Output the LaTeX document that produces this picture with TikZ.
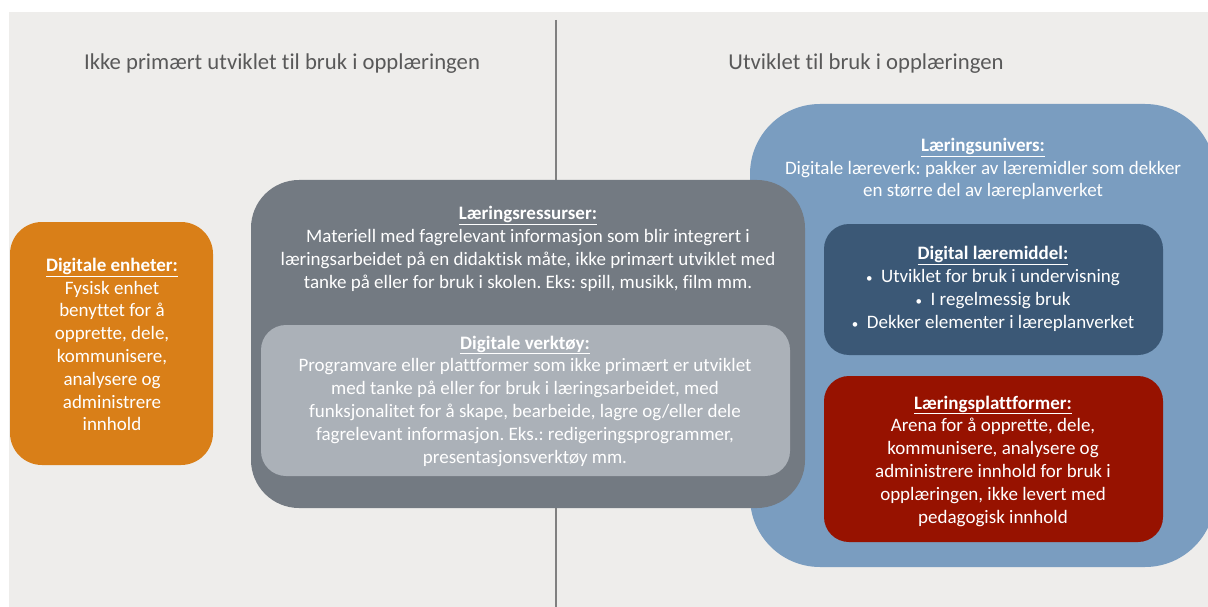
\documentclass[tikz,border=0pt]{standalone}
\usepackage{fontspec}
\setmainfont{Carlito}[Ligatures=NoCommon]
\frenchspacing
\usetikzlibrary{positioning}
\definecolor{PageGray}{RGB}{238,237,235}
\definecolor{TitleGray}{RGB}{89,89,89}
\definecolor{LineGray}{RGB}{128,128,128}
\definecolor{Orange}{RGB}{217,127,24}
\definecolor{Slate}{RGB}{115,122,130}
\definecolor{SoftSlate}{RGB}{171,177,184}
\definecolor{SkyBlue}{RGB}{122,157,192}
\definecolor{NavyBlue}{RGB}{59,88,118}
\definecolor{DarkRed}{RGB}{151,18,0}
\newcommand{\boxhead}[1]{\textbf{\underline{#1}}}
\newcommand{\bulletpt}{{\fontsize{13}{13}\selectfont•}\hspace{0.45em}}
\tikzset{
  panel/.style={rectangle,inner sep=0pt,draw=none},
  bigpanel/.style={panel,rounded corners=48pt},
  smallpanel/.style={panel,rounded corners=25pt},
  boxtext/.style={align=center,text=white,inner sep=0pt,font=\fontsize{19}{22.8}\selectfont},
  sidetitle/.style={text=TitleGray,inner sep=0pt,font=\fontsize{22.7}{24}\selectfont},
  divider/.style={draw=LineGray,line width=1.5pt}
}
\begin{document}
\begin{tikzpicture}[x=1pt,y=-1pt]
  \useasboundingbox (0,0) rectangle (1208,607);
  \fill[PageGray] (9,12) rectangle (1208,607);
  % two halves
  \coordinate (divtop) at (556,20);
  \coordinate (divbot) at (556,607);
  \draw[divider] (divtop)--(divbot);
  \node[sidetitle] (lefttitle) at (282,64) {Ikke primært utviklet til bruk i opplæringen};
  \node[sidetitle] (righttitle) at (866,64) {Utviklet til bruk i opplæringen};
  % right side: learning universe
  \node[panel,rounded corners=70pt,fill=SkyBlue,minimum width=465pt,minimum height=463pt] (univers) at (982.5,335.5) {};
  \node[boxtext] (universtext) at (983,169) {\boxhead{Læringsunivers:}\\
    Digitale læreverk: pakker av læremidler som dekker\\
    en større del av læreplanverket};
  \node[smallpanel,fill=NavyBlue,minimum width=339pt,minimum height=131pt] (middel) at (993.5,289.5) {};
  \node[boxtext] (middeltext) at (993,289) {\boxhead{Digital læremiddel:}\\
    \bulletpt Utviklet for bruk i undervisning\\
    \bulletpt I regelmessig bruk\\
    \bulletpt Dekker elementer i læreplanverket};
  \node[smallpanel,fill=DarkRed,minimum width=339pt,minimum height=166pt] (plattform) at (993.5,459) {};
  \node[boxtext] (plattformtext) at (993,461) {\boxhead{Læringsplattformer:}\\
    Arena for å opprette, dele,\\
    kommunisere, analysere og\\
    administrere innhold for bruk i\\
    opplæringen, ikke levert med\\
    pedagogisk innhold};
  % left side
  \node[panel,rounded corners=32pt,fill=Orange,minimum width=203pt,minimum height=243pt] (enheter) at (111.5,343.5) {};
  \node[boxtext] (enhetertext) at (112,344.5) {\boxhead{Digitale enheter:}\\
    Fysisk enhet\\
    benyttet for å\\
    opprette, dele,\\
    kommunisere,\\
    analysere og\\
    administrere\\
    innhold};
  \node[bigpanel,fill=Slate,minimum width=554pt,minimum height=328pt] (ressurser) at (528,344) {};
  \node[boxtext] (ressursertext) at (528,249) {\boxhead{Læringsressurser:}\\
    Materiell med fagrelevant informasjon som blir integrert i\\
    læringsarbeidet på en didaktisk måte, ikke primært utviklet med\\
    tanke på eller for bruk i skolen. Eks: spill, musikk, film mm.};
  \node[smallpanel,fill=SoftSlate,minimum width=529pt,minimum height=151pt] (verktoy) at (525.5,400.5) {};
  \node[boxtext] (verktoytext) at (525,401) {\boxhead{Digitale verktøy:}\\
    Programvare eller plattformer som ikke primært er utviklet\\
    med tanke på eller for bruk i læringsarbeidet, med\\
    funksjonalitet for å skape, bearbeide, lagre og/eller dele\\
    fagrelevant informasjon. Eks.: redigeringsprogrammer,\\
    presentasjonsverktøy mm.};
\end{tikzpicture}
\end{document}
